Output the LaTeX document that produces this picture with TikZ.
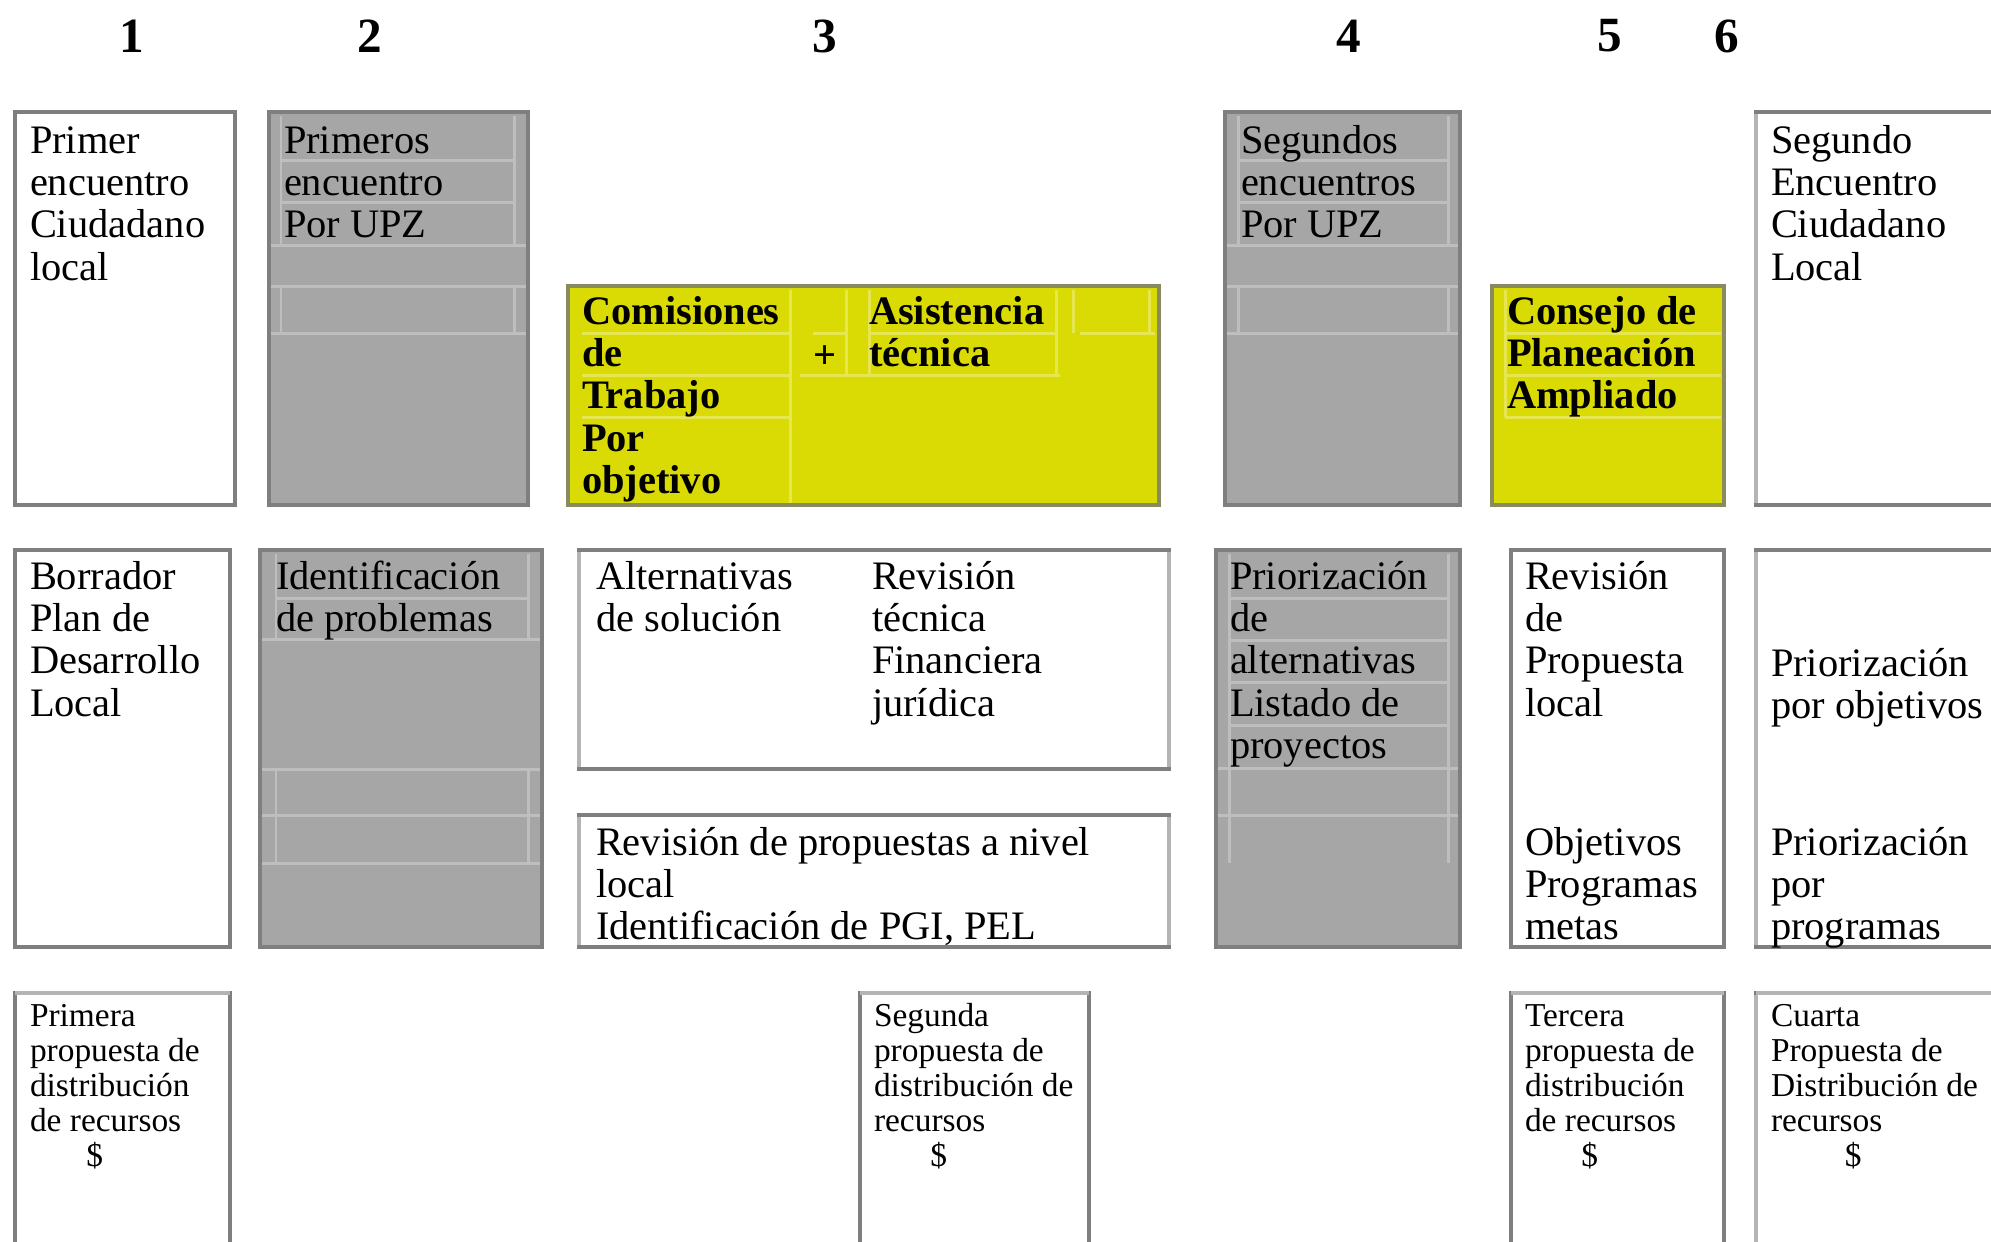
\documentclass[tikz,border=0pt]{standalone}
\usepackage{fontspec}
\setmainfont{Liberation Serif}
\definecolor{gfill}{HTML}{A6A6A6}
\definecolor{gborder}{HTML}{7F7F7F}
\definecolor{glight}{HTML}{BEBEBE}
\definecolor{yfill}{HTML}{DADA04}
\definecolor{ylight}{HTML}{E6E650}
\definecolor{yborder}{HTML}{8A8A60}
\definecolor{lightedge}{HTML}{B4B4B4}
\newcommand\bodyf{\fontsize{11.5}{12}\selectfont}
\newcommand\smallf{\fontsize{9.5}{9.96}\selectfont}
\newcommand\hdrf{\fontsize{14}{16}\selectfont\bfseries}
\begin{document}
\begin{tikzpicture}[x=0.01cm,y=-0.01cm,
  every node/.style={inner sep=0pt,outer sep=0pt},
  txt/.style={anchor=north west,align=left,font=\bodyf},
  btxt/.style={anchor=north west,align=left,font=\bodyf\bfseries},
  smalltxt/.style={anchor=north west,align=left,font=\smallf},
  hdr/.style={font=\hdrf},
  whitebox/.style={draw=gborder,line width=1.14pt,fill=white},
  graybox/.style={draw=gborder,line width=1.14pt,fill=gfill},
  yelbox/.style={draw=yborder,line width=1.14pt,fill=yfill},
  gline/.style={draw=glight,line width=0.85pt},
  yline/.style={draw=ylight,line width=0.85pt},
  litedge/.style={draw=lightedge,line width=1.14pt}
]
\clip (0,0) rectangle (1991,1241);
\fill[white] (0,0) rectangle (1991,1241);

% column headers
\node[hdr] (h1) at (132,36) {1};
\node[hdr] (h2) at (370,36) {2};
\node[hdr] (h3) at (825,36) {3};
\node[hdr] (h4) at (1349,36) {4};
\node[hdr] (h5) at (1610,36) {5};
\node[hdr] (h6) at (1727,36) {6};

% ---------- row 1 ----------
\draw[whitebox] (15,112) rectangle (235,505);
\draw[graybox] (269,112) rectangle (528,505);
\draw[yelbox] (568,286) rectangle (1159,505);
\draw[graybox] (1225,112) rectangle (1460,505);
\draw[yelbox] (1492,286) rectangle (1724,505);
\draw[whitebox] (1756,112) rectangle (2010,505);
\draw[litedge] (1756,114) -- (1756,503);

% inner lines box 2
\draw[gline] (281,116) -- (281,245) (514,116) -- (514,245);
\draw[gline] (281,160) -- (514,160) (281,202) -- (514,202);
\draw[gline] (271,245) -- (526,245) (271,286) -- (526,286) (271,333) -- (526,333);
\draw[gline] (281,286) -- (281,333) (514,286) -- (514,333);
% inner lines box 4
\draw[gline] (1238,116) -- (1238,245) (1448,116) -- (1448,245);
\draw[gline] (1238,160) -- (1448,160) (1238,202) -- (1448,202);
\draw[gline] (1227,245) -- (1458,245) (1227,286) -- (1458,286) (1227,333) -- (1458,333);
\draw[gline] (1238,286) -- (1238,333) (1448,286) -- (1448,333);
% inner lines yellow box 3
\draw[yline] (582,333) -- (790,333) (582,375) -- (790,375) (582,417) -- (790,417);
\draw[yline] (790,290) -- (790,503);
\draw[yline] (813,333) -- (846,333) (869,333) -- (1056,333) (1080,333) -- (1155,333);
\draw[yline] (800,375) -- (1060,375);
\draw[yline] (846,290) -- (846,375) (869,290) -- (869,375) (1056,290) -- (1056,375);
\draw[yline] (1073,290) -- (1073,333) (1149,290) -- (1149,333);
% inner lines yellow box 5
\draw[yline] (1505,333) -- (1721,333) (1505,375) -- (1721,375) (1505,417) -- (1721,417);
\draw[yline] (1505,290) -- (1505,417);

\node[txt] (t11) at (30,124) {\strut Primer\\encuentro\\Ciudadano\\local};
\node[txt] (t12) at (284,124) {\strut Primeros\\encuentro\\Por UPZ};
\node[btxt] (t13a) at (582,295) {\strut Comisiones\\de\\Trabajo\\Por\\objetivo};
\node[anchor=base,font=\bodyf\bfseries] (plus) at (825,368) {+};
\node[btxt] (t13b) at (869,295) {\strut Asistencia\\técnica};
\node[txt] (t14) at (1241,124) {\strut Segundos\\encuentros\\Por UPZ};
\node[btxt] (t15) at (1507,295) {\strut Consejo de\\Planeación\\Ampliado};
\node[txt] (t16) at (1771,124) {\strut Segundo\\Encuentro\\Ciudadano\\Local};

% ---------- row 2 ----------
\draw[whitebox] (15,550) rectangle (230,947);
\draw[graybox] (260,550) rectangle (542,947);
\draw[whitebox] (579,550) rectangle (1169,769);
\draw[whitebox] (579,815) rectangle (1169,947);
\draw[graybox] (1216,550) rectangle (1460,947);
\draw[whitebox] (1511,550) rectangle (1724,947);
\draw[whitebox] (1756,550) rectangle (2010,947);
\draw[litedge] (579,552) -- (579,767) (1169,552) -- (1169,767);
\draw[litedge] (579,817) -- (579,945) (1169,817) -- (1169,945);
\draw[litedge] (1756,552) -- (1756,945);

% inner lines Identificacion
\draw[gline] (276,554) -- (276,639) (528,554) -- (528,639);
\draw[gline] (276,598) -- (528,598);
\draw[gline] (262,639) -- (540,639) (262,769) -- (540,769) (262,815) -- (540,815) (262,863) -- (540,863);
\draw[gline] (276,769) -- (276,863) (528,769) -- (528,863);
% inner lines Priorizacion
\draw[gline] (1229,554) -- (1229,863) (1448,554) -- (1448,863);
\draw[gline] (1229,598) -- (1448,598) (1229,640) -- (1448,640) (1229,682) -- (1448,682) (1229,725) -- (1448,725);
\draw[gline] (1218,768) -- (1458,768) (1218,815) -- (1458,815);

\node[txt] (t21) at (30,560) {\strut Borrador\\Plan de\\Desarrollo\\Local};
\node[txt] (t22) at (276,560) {\strut Identificación\\de problemas};
\node[txt] (t23a) at (596,560) {\strut Alternativas\\de solución};
\node[txt] (t23b) at (872,560) {\strut Revisión\\técnica\\Financiera\\jurídica};
\node[txt] (t23c) at (596,826) {\strut Revisión de propuestas a nivel\\local\\Identificación de PGI, PEL};
\node[txt] (t24) at (1230,560) {\strut Priorización\\de\\alternativas\\Listado de\\proyectos};
\node[txt] (t25a) at (1525,560) {\strut Revisión\\de\\Propuesta\\local};
\node[txt] (t25b) at (1525,826) {\strut Objetivos\\Programas\\metas};
\node[txt] (t26a) at (1771,647) {\strut Priorización\\por objetivos};
\node[txt] (t26b) at (1771,826) {\strut Priorización\\por\\programas};

% ---------- row 3 ----------
\draw[whitebox] (15,993) rectangle (230,1260);
\draw[whitebox] (860,993) rectangle (1089,1260);
\draw[whitebox] (1511,993) rectangle (1724,1260);
\draw[whitebox] (1756,993) rectangle (2010,1260);
\draw[litedge] (15,993) -- (230,993) (860,993) -- (1089,993) (1511,993) -- (1724,993) (1756,993) -- (2010,993);
\draw[litedge] (1756,995) -- (1756,1260);

\node[smalltxt] (t31) at (30,1002) {\strut Primera\\propuesta de\\distribución\\de recursos\\\hspace*{16pt}\$};
\node[smalltxt] (t32) at (874,1002) {\strut Segunda\\propuesta de\\distribución de\\recursos\\\hspace*{16pt}\$};
\node[smalltxt] (t35) at (1525,1002) {\strut Tercera\\propuesta de\\distribución\\de recursos\\\hspace*{16pt}\$};
\node[smalltxt] (t36) at (1771,1002) {\strut Cuarta\\Propuesta de\\Distribución de\\recursos\\\hspace*{21pt}\$};
\end{tikzpicture}
\end{document}
